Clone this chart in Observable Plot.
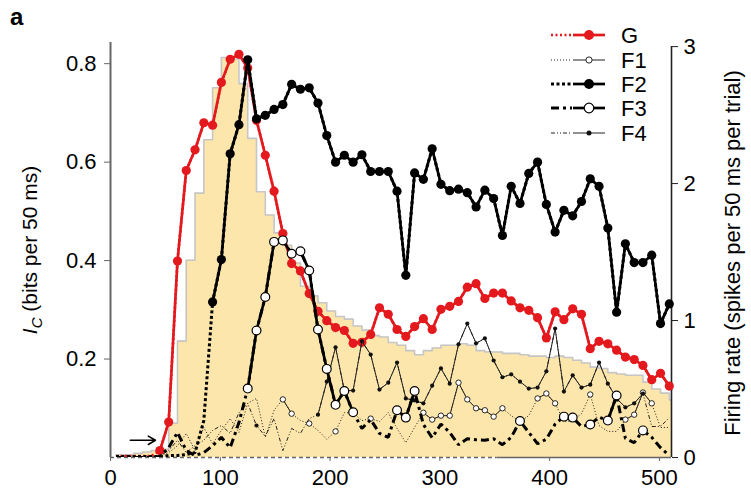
<!DOCTYPE html>
<html><head><meta charset="utf-8">
<script src="https://cdn.jsdelivr.net/npm/d3@7"></script>
<script src="https://cdn.jsdelivr.net/npm/@observablehq/plot@0.6"></script>
<style>
body{margin:0;background:#fff;}
#chart{position:relative;width:751px;height:498px;font-family:"Liberation Sans",Arial,sans-serif;}
#chart svg{position:absolute;left:0;top:0;overflow:visible;}
</style></head><body><div id="chart"></div>
<script>
// ---- data (time in ms, 8 ms steps) ----
const times = [5,13,21,29,37,45,53,61,69,77,85,93,101,109,117,125,133,141,149,157,165,173,181,189,197,205,213,221,229,237,245,253,261,269,277,285,293,301,309,317,325,333,341,349,357,365,373,381,389,397,405,413,421,429,437,445,453,461,469,477,485,493,501,509];
// firing rate histogram (right axis, spikes per 50 ms per trial), bin starts at times[i], width 8 ms
const firingRate = [0.02,0.02,0.03,0.04,0.05,0.06,0.25,0.85,1.44,1.93,2.32,2.70,2.92,2.91,2.73,2.33,1.94,1.77,1.64,1.55,1.42,1.25,1.18,1.13,1.07,1.03,1.01,0.96,0.93,0.89,0.88,0.84,0.82,0.78,0.75,0.78,0.80,0.82,0.82,0.83,0.82,0.78,0.77,0.77,0.76,0.76,0.75,0.74,0.74,0.73,0.74,0.73,0.71,0.69,0.66,0.65,0.62,0.61,0.60,0.60,0.55,0.50,0.47,0.42];
// I_C series (left axis, bits per 50 ms)
const gVals = [0.003,0.003,0.003,0.003,0.003,0.014,0.072,0.399,0.583,0.625,0.680,0.675,0.762,0.809,0.819,0.791,0.685,0.614,0.541,0.455,0.394,0.379,0.333,0.297,0.278,0.264,0.258,0.232,0.234,0.250,0.304,0.291,0.260,0.246,0.266,0.282,0.260,0.301,0.307,0.317,0.346,0.353,0.323,0.334,0.334,0.318,0.304,0.299,0.284,0.243,0.296,0.280,0.302,0.291,0.221,0.236,0.231,0.218,0.204,0.199,0.187,0.158,0.171,0.145];
const f1Vals = [0,0,0,0,0,0.004,0.010,0.024,0.049,0.014,0.061,0.028,0.055,0.079,0.051,0.110,0.120,0.041,0.096,0.118,0.089,0.075,0.069,0.055,0.037,0.053,0.091,0.091,0.075,0.079,0.073,0.091,0.059,0.030,0.061,0.091,0.077,0.085,0.085,0.152,0.118,0.100,0.096,0.083,0.100,0.085,0.073,0.085,0.120,0.130,0.110,0.073,0.075,0.089,0.128,0.065,0.053,0.053,0.077,0.087,0.132,0.110,0.061,0.061];
const f2Vals = [0.002,0.002,0.002,0.002,0.002,0.002,0.004,0.004,0.006,0.010,0.075,0.316,0.402,0.617,0.676,0.808,0.688,0.695,0.707,0.717,0.758,0.748,0.751,0.720,0.654,0.600,0.614,0.600,0.615,0.581,0.581,0.581,0.541,0.370,0.578,0.565,0.627,0.555,0.542,0.545,0.538,0.509,0.543,0.526,0.451,0.551,0.516,0.577,0.600,0.514,0.458,0.502,0.491,0.520,0.566,0.551,0.466,0.295,0.434,0.396,0.396,0.411,0.272,0.312];
const f3Vals = [0,0,0,0,0,0.002,0.020,0.051,0.014,0.004,0.010,0.024,0.041,0.020,0.071,0.140,0.258,0.326,0.438,0.441,0.414,0.419,0.380,0.260,0.180,0.107,0.135,0.092,0.059,0.077,0.049,0.041,0.096,0.081,0.135,0.067,0.040,0.068,0.051,0.026,0.038,0.036,0.035,0.038,0.026,0.041,0.074,0.051,0.028,0.037,0.068,0.083,0.081,0.063,0.067,0.082,0.075,0.126,0.039,0.030,0.055,0.041,0.020,0.004];
const f4Vals = [0,0,0,0,0,0.004,0.014,0.035,0.010,0.024,0.035,0.055,0.065,0.049,0.091,0.110,0.065,0.043,0.079,0.014,0.059,0.049,0.079,0.087,0.154,0.224,0.136,0.136,0.236,0.209,0.138,0.152,0.193,0.120,0.116,0.110,0.146,0.181,0.150,0.230,0.272,0.232,0.242,0.197,0.163,0.169,0.154,0.140,0.142,0.175,0.262,0.134,0.167,0.142,0.148,0.193,0.150,0.120,0.102,0.110,0.130,0.063,0.063,0.081];
// significant points (1 = solid line + marker, 0 = broken line)
const gSig  = "00000111"+"11111111"+"11111111"+"11111111"+"11111111"+"11111111"+"11111111"+"11111111";
const f1Sig = "00000000"+"00000000"+"00011010"+"01000100"+"00011111"+"11111000"+"11100010"+"00111100";
const f2Sig = "00000000"+"00011111"+"11111111"+"11111111"+"11111111"+"11111111"+"11111111"+"11111111";
const f3Sig = "00000000"+"00000001"+"11111111"+"11110000"+"11100000"+"00000010"+"00011010"+"11001000";
const f4Sig = "00000000"+"00000000"+"10000001"+"11111111"+"11111111"+"11111111"+"11111111"+"11111000";
const seriesNames = ["G","F1","F2","F3","F4"];
const xTicks = [0,100,200,300,400,500];
const leftTicks = [0.2,0.4,0.6,0.8];
const rightTicks = [0,1,2,3];
const arrowAnn = [{x1:18, x2:41, y:0.035}];

// ---- styles ----
const RED = "#e3191e";
const styles = {
  G:  {stroke:RED, dash:"2,2.5", dw:2.6, w:2.7, r:4.6, fill:RED, ms:RED, msw:0},
  F1: {stroke:"#222", dash:"1,2", dw:1, w:1, r:2.7, fill:"white", ms:"#111", msw:0.9},
  F2: {stroke:"#000", dash:"3,2.5", dw:3, w:2.7, r:4.6, fill:"#000", ms:"#000", msw:0},
  F3: {stroke:"#000", dash:"8,4,3,4", dw:3, w:2.7, r:4.4, fill:"white", ms:"#000", msw:1.2},
  F4: {stroke:"#222", dash:"4,2,1,2,1,2", dw:1, w:1, r:2.1, fill:"#111", ms:"#111", msw:0}
};
const valsBy = {G:gVals, F1:f1Vals, F2:f2Vals, F3:f3Vals, F4:f4Vals};
const sigBy = {G:gSig, F1:f1Sig, F2:f2Sig, F3:f3Sig, F4:f4Sig};

const W = 751, H = 498;
const margins = {marginTop:42, marginRight:80, marginBottom:41, marginLeft:110};
const xDomain = [0, 511];
const font = '"Liberation Sans", Arial, sans-serif';
const chart = document.getElementById("chart");

// ---- Plot A: firing rate histogram with right axis ----
const stairs = times.map((t,i)=>({t, rate:firingRate[i]}));
stairs.push({t: times[times.length-1]+8, rate: firingRate[firingRate.length-1]});
const plotA = Plot.plot({
  width:W, height:H, ...margins,
  x:{domain:xDomain, axis:null},
  y:{domain:[0,3.03], axis:null},
  style:{fontFamily:font, fontSize:"22px", background:"white", color:"black"},
  marks:[
    Plot.areaY(stairs, {x:"t", y:"rate", curve:"step-after", fill:"#fde6ab", clip:true}),
    Plot.line(stairs, {x:"t", y:"rate", curve:"step-after", stroke:"#c6c6c6", strokeWidth:1.6, clip:true}),
    Plot.ruleX([xDomain[1]], {y1:0, y2:3, stroke:"#222", strokeWidth:1.6}),
    Plot.axisY(rightTicks, {anchor:"right", tickSize:6, tickPadding:6, label:null, tickFormat:d=>String(d), stroke:"#222"})
  ]
});
chart.appendChild(plotA);

// ---- Plot B: information curves, left axis, x axis ----
const rows = [];
for (const name of seriesNames) {
  const v = valsBy[name], s = sigBy[name];
  times.forEach((t,i)=>rows.push({name, t, v:v[i], sig:s[i]==="1", solid: s[i]==="1" ? v[i] : NaN}));
}
const order = ["G","F1","F4","F3","F2"];
const seriesMarks = [];
for (const name of order) {
  const st = styles[name];
  const d = rows.filter(r=>r.name===name);
  seriesMarks.push(Plot.line(d, {x:"t", y:"v", stroke:st.stroke, strokeWidth:st.dw, strokeDasharray:st.dash, strokeLinecap:"butt", strokeLinejoin:"miter", clip:true}));
  seriesMarks.push(Plot.line(d, {x:"t", y:"solid", stroke:st.stroke, strokeWidth:st.w, clip:true}));
  seriesMarks.push(Plot.dot(d.filter(r=>r.sig), {x:"t", y:"v", r:st.r, fill:st.fill, stroke:st.ms, strokeWidth:st.msw}));
}
const baseline = [{x1:0, x2:352, dash:"4,3"}, {x1:352, x2:511, dash:null}];
const plotB = Plot.plot({
  width:W, height:H, ...margins,
  x:{domain:xDomain, axis:null},
  y:{domain:[0,0.843], axis:null},
  style:{fontFamily:font, fontSize:"22px", background:"none", color:"black"},
  marks:[
    Plot.ruleY(baseline.filter(b=>b.dash), {y:0, x1:"x1", x2:"x2", stroke:"#666", strokeWidth:1.5, strokeDasharray:"4,3"}),
    Plot.ruleY(baseline.filter(b=>!b.dash), {y:0, x1:"x1", x2:"x2", stroke:"#666", strokeWidth:1.5}),
    ...seriesMarks,
    Plot.arrow(arrowAnn, {x1:"x1", x2:"x2", y1:"y", y2:"y", stroke:"black", strokeWidth:1.5, headLength:9}),
    Plot.ruleX([0], {y1:0, y2:0.843, stroke:"#666", strokeWidth:2}),
    Plot.axisY(leftTicks, {anchor:"left", tickSize:6, tickPadding:8, label:null, tickFormat:d=>d.toFixed(1), stroke:"#666"}),
    Plot.axisX(xTicks, {anchor:"bottom", tickSize:4, tickPadding:8, label:null, tickFormat:d=>String(d), stroke:"#666"})
  ]
});
chart.appendChild(plotB);

// ---- overlay: labels and legend ----
const ov = d3.select(chart).append("svg").attr("width", W).attr("height", H)
  .style("font-family", font);
ov.append("text").attr("x", 10).attr("y", 25).attr("font-size", 24).attr("font-weight", "bold").text("a");
const yl = ov.append("text").attr("transform", "translate(37,250) rotate(-90)")
  .attr("text-anchor", "middle").attr("font-size", 21);
yl.append("tspan").attr("font-style", "italic").text("I");
yl.append("tspan").attr("font-style", "italic").attr("font-size", 15).attr("dy", 5).text("C");
yl.append("tspan").attr("dy", -5).text(" (bits per 50 ms)");
ov.append("text").attr("transform", "translate(740,253) rotate(-90)")
  .attr("text-anchor", "middle").attr("font-size", 22)
  .text("Firing rate (spikes per 50 ms per trial)");

const legendY = [35, 60, 84, 108, 133];
seriesNames.forEach((name, i) => {
  const st = styles[name], y = legendY[i];
  const g = ov.append("g");
  g.append("line").attr("x1", 551).attr("x2", 572).attr("y1", y).attr("y2", y)
    .attr("stroke", st.stroke).attr("stroke-width", st.dw).attr("stroke-dasharray", st.dash);
  g.append("line").attr("x1", 573).attr("x2", 605).attr("y1", y).attr("y2", y)
    .attr("stroke", st.stroke).attr("stroke-width", st.w);
  g.append("circle").attr("cx", 589).attr("cy", y).attr("r", st.r + 0.4)
    .attr("fill", st.fill).attr("stroke", st.ms).attr("stroke-width", st.msw);
  g.append("text").attr("x", 621).attr("y", y).attr("dy", "0.36em").attr("font-size", 22).text(name);
});
</script></body></html>
